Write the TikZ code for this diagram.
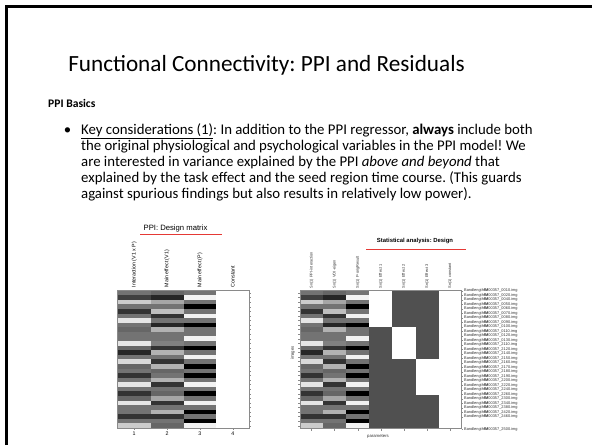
\documentclass[tikz,border=0pt]{standalone}
\usepackage{fontspec}
\setmainfont{Carlito}
\newfontfamily\arialf{Liberation Sans}
\definecolor{redline}{HTML}{E53935}
\definecolor{framegray}{HTML}{8A8A8A}
\definecolor{darkblock}{HTML}{505050}
\begin{document}
\frenchspacing
\begin{tikzpicture}[x=1pt,y=-1pt,
  bodytext/.style={anchor=base west,inner sep=0pt,font=\fontsize{14.8}{16}\selectfont},
  figtxt/.style={inner sep=0pt,font=\arialf\fontsize{5.3}{6}\selectfont},
  tinytxt/.style={inner sep=0pt,font=\arialf\fontsize{3.9}{4.5}\selectfont,text=black!80},
  redrule/.style={draw=redline,line width=1.4pt},
  mframe/.style={draw=framegray,line width=0.5pt},
  tickmark/.style={draw=framegray,line width=0.35pt}]
\useasboundingbox (0,0) rectangle (592,445);
\fill[white] (0,0) rectangle (592,445);
% slide border
\draw[line width=2.3pt] (6.6,445) -- (6.6,6.6) -- (592,6.6);
% title
\node[anchor=base,inner sep=0pt,font=\fontsize{23.2}{28}\selectfont] (title) at (266.5,71.5) {Functional Connectivity: PPI and Residuals};
\node[anchor=base west,inner sep=0pt,font=\bfseries\fontsize{11.6}{14}\selectfont] (basics) at (48,107.5) {PPI Basics};
% bullet text
\node[anchor=base,inner sep=0pt,font=\fontsize{14.8}{16}\selectfont] (bul) at (67.5,134) {\textbullet};
\node[bodytext] (l1) at (81,134) {\underline{Key considerations (1)}: In addition to the PPI regressor, \textbf{always} include both};
\node[bodytext] (l2) at (81,150) {the original physiological and psychological variables in the PPI model! We};
\node[bodytext] (l3) at (81,166) {are interested in variance explained by the PPI \textit{above and beyond} that};
\node[bodytext] (l4) at (81,182) {explained by the task effect and the seed region time course. (This guards};
\node[bodytext] (l5) at (81,198) {against spurious findings but also results in relatively low power).};

% ---------- left figure ----------
\node[anchor=base,inner sep=0pt,font=\arialf\fontsize{7.7}{9}\selectfont] (ltitle) at (175.5,230.5) {PPI: Design matrix};
\draw[redrule] (140,234.3) -- (221.7,234.3);
\def\LX{117.7}\def\LW{32.9}\def\LT{290.7}\def\RH{4.577}
\foreach \a/\b/\c [count=\i from 0] in {55/60/55,75/85/5,20/35/55,55/55/100,80/25/55,55/80/5,10/55/55,55/85/100,60/30/55,55/55/55,55/55/5,10/50/55,60/80/100,85/30/55,55/55/5,15/80/55,60/30/100,55/60/55,80/55/100,55/30/55,10/80/5,55/55/55,80/60/100,60/35/55,10/80/5,55/55/55,55/30/100,80/80/55,55/55/100,20/60/5}{
  \fill[black!\a] (\LX,\LT+\i*\RH) rectangle (\LX+\LW,\LT+\i*\RH+\RH);
  \fill[black!\b] (\LX+\LW,\LT+\i*\RH) rectangle (\LX+2*\LW,\LT+\i*\RH+\RH);
  \fill[black!\c] (\LX+2*\LW,\LT+\i*\RH) rectangle (\LX+3*\LW,\LT+\i*\RH+\RH);
  \fill[black!\a] (300,\LT+\i*\RH) rectangle (323.1,\LT+\i*\RH+\RH);
  \fill[black!\b] (323.1,\LT+\i*\RH) rectangle (346.2,\LT+\i*\RH+\RH);
  \fill[black!\c] (346.2,\LT+\i*\RH) rectangle (369.3,\LT+\i*\RH+\RH);
  \draw[tickmark] (249.3,\LT+\i*\RH+2.3) -- (251.3,\LT+\i*\RH+2.3);
  \draw[tickmark] (298,\LT+\i*\RH+2.3) -- (300,\LT+\i*\RH+2.3);
}
\draw[mframe] (117.7,290.7) rectangle (249.3,428);
\foreach \t [count=\k] in {Interaction (V1 x P),Main effect (V1),Main effect (P),Constant}{
  \node[figtxt,rotate=90,anchor=west] (lc\k) at (\LX+\k*\LW-0.5*\LW,287.5) {\t};
  \draw[tickmark] (\LX+\k*\LW-0.5*\LW,428) -- (\LX+\k*\LW-0.5*\LW,430);
  \node[figtxt,anchor=north] (ln\k) at (\LX+\k*\LW-0.5*\LW,432) {\k};
}

% ---------- right figure ----------
\node[anchor=base,inner sep=0pt,font=\arialf\bfseries\fontsize{5.9}{7}\selectfont] (rtitle) at (415,242.5) {Statistical analysis: Design};
\draw[redrule] (366,249.3) -- (466,249.3);
% block regressors
\fill[darkblock] (369.3,290.7) rectangle (438.6,428.3);
\fill[white] (369.3,290.7) rectangle (392.4,326.7);
\fill[white] (392.4,326.7) rectangle (415.5,359.3);
\fill[white] (415.5,359.3) rectangle (438.6,395);
\draw[mframe] (300,290.7) rectangle (461.7,428.3);
\foreach \t [count=\k] in {Sn(1) PPI-interaction,Sn(1) VOI-eigen,Sn(1) P-origResult,Sn(1) Effect 1,Sn(1) Effect 2,Sn(1) Effect 3,Sn(1) constant}{
  \node[tinytxt,rotate=90,anchor=west] (rc\k) at (300+\k*23.1-11.55,288.5) {\t};
  \draw[tickmark] (300+\k*23.1-11.55,428.3) -- (300+\k*23.1-11.55,430.5);
}
\node[tinytxt,font=\arialf\fontsize{4.3}{5}\selectfont,rotate=90] (imgs) at (292.7,353) {images};
\node[tinytxt,font=\arialf\fontsize{4.3}{5}\selectfont] (params) at (378,436.5) {parameters};
\foreach \n [count=\k from 0] in {0010,0020,0040,0050,0060,0070,0080,0090,0100,0110,0120,0130,2110,2120,2140,2150,2160,2170,2180,2190,2200,2220,2240,2260,2300,2340,2380,2420,2460}{
  \draw[tickmark] (461.7,290.9+\k*4.5) -- (463.4,290.9+\k*4.5);
  \node[tinytxt,anchor=west] (f\k) at (464,290.9+\k*4.5) {Bandlength\textbf{fM}00357\_\n.img};
}
\draw[tickmark] (461.7,429) -- (463.4,429);
\node[tinytxt,anchor=west] (flast) at (464,429) {Bandlength\textbf{fM}00357\_2500.img};
\end{tikzpicture}
\end{document}
